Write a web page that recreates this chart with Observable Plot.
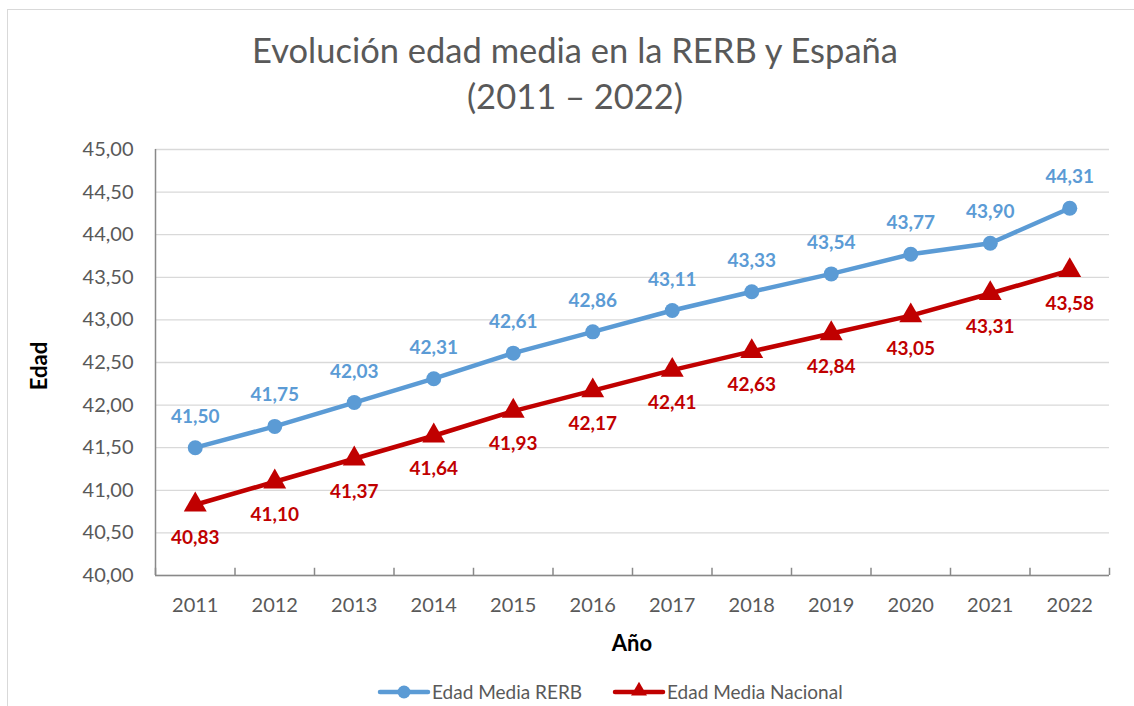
<!DOCTYPE html>
<html><head><meta charset="utf-8">
<script src="https://cdn.jsdelivr.net/npm/d3@7"></script>
<script src="https://cdn.jsdelivr.net/npm/@observablehq/plot@0.6"></script>
<style>
body{margin:0;background:#fff;font-family:Lato,"Open Sans",sans-serif;}
#wrap{position:relative;width:1134px;height:706px;overflow:hidden;background:#fff}
#border{position:absolute;left:7px;top:9px;width:1200px;height:800px;border:1px solid #d9d9d9;box-sizing:border-box}
#title{position:absolute;left:0;width:1150px;top:27px;text-align:center;font-size:34.5px;line-height:46px;color:#595959}
#xt{position:absolute;left:0;width:1264px;top:629px;text-align:center;font-size:22px;font-weight:bold;color:#000}
#yt{position:absolute;left:38px;top:366px;transform:translate(-50%,-50%) rotate(-90deg);font-size:22px;font-weight:bold;color:#000}
#legend{position:absolute;left:0;top:676px;}
#chart{position:absolute;left:0;top:0}
</style></head>
<body>
<div id="wrap">
<div id="border"></div>
<div id="chart"></div>
<div id="title">Evolución edad media en la RERB y España<br>(2011 – 2022)</div>
<div id="xt">Año</div>
<div id="yt">Edad</div>
<svg id="legend" width="1134" height="30"></svg>
</div>
<script>
const years = [2011,2012,2013,2014,2015,2016,2017,2018,2019,2020,2021,2022];
const rerb = [41.50,41.75,42.03,42.31,42.61,42.86,43.11,43.33,43.54,43.77,43.90,44.31];
const nacional = [40.83,41.10,41.37,41.64,41.93,42.17,42.41,42.63,42.84,43.05,43.31,43.58];
const yTicks = [40,40.5,41,41.5,42,42.5,43,43.5,44,44.5,45];
const seriesNames = ["Edad Media RERB","Edad Media Nacional"];
const colors = ["#5B9BD5","#C00000"];

const dA = years.map((y,i)=>({year:y, v:rerb[i]}));
const dB = years.map((y,i)=>({year:y, v:nacional[i]}));
const bounds = years.map(y=>y-0.5).concat([years[years.length-1]+0.5]);
const fmt = d => d.toFixed(2).replace(".", ",");

const plot = Plot.plot({
  width:1134, height:706,
  marginLeft:155, marginRight:25, marginTop:149, marginBottom:131,
  style:{fontFamily:"Lato, 'Open Sans', sans-serif", background:"transparent", overflow:"visible"},
  x:{domain:[years[0]-0.5, years[years.length-1]+0.5]},
  y:{domain:[40,45]},
  marks:[
    Plot.gridY(yTicks,{stroke:"#d9d9d9", strokeOpacity:1, strokeWidth:1.3}),
    Plot.axisY({ticks:yTicks, tickSize:0, tickPadding:22, tickFormat:fmt, fontSize:20, fill:"#595959", label:null}),
    Plot.axisX({ticks:years, tickSize:0, tickPadding:22, tickFormat:d=>String(d), fontSize:20, fill:"#595959", label:null}),
    Plot.ruleX(bounds,{x:d=>d, y1:40, y2:40.085, stroke:"#898989", strokeWidth:1.5}),
    Plot.ruleX([years[0]-0.5],{y1:40, y2:45, stroke:"#898989", strokeWidth:1.5}),
    Plot.ruleY([40],{stroke:"#898989", strokeWidth:1.5}),
    Plot.line(dA,{x:"year", y:"v", stroke:colors[0], strokeWidth:4.5}),
    Plot.dot(dA,{x:"year", y:"v", r:7.5, fill:colors[0], stroke:null}),
    Plot.line(dB,{x:"year", y:"v", stroke:colors[1], strokeWidth:4.5}),
    Plot.dot(dB,{x:"year", y:"v", symbol:"triangle", r:8.5, fill:colors[1], stroke:null}),
    Plot.text(dA,{x:"year", y:"v", text:d=>fmt(d.v), dy:-31, fill:colors[0], fontSize:19, fontWeight:"bold"}),
    Plot.text(dB,{x:"year", y:"v", text:d=>fmt(d.v), dy:33, fill:colors[1], fontSize:19, fontWeight:"bold"})
  ]
});
document.getElementById("chart").appendChild(plot);

// legend
const lg = d3.select("#legend");
const items = [{x:380, sym:"circle"},{x:615, sym:"triangle"}];
items.forEach((it,i)=>{
  const g = lg.append("g").attr("transform",`translate(${it.x},16)`);
  g.append("line").attr("x1",0).attr("x2",48).attr("y1",0).attr("y2",0)
   .attr("stroke",colors[i]).attr("stroke-width",4.5).attr("stroke-linecap","round");
  if(it.sym==="circle") g.append("circle").attr("cx",24).attr("cy",0).attr("r",6.5).attr("fill",colors[i]);
  else g.append("path").attr("d",d3.symbol(d3.symbolTriangle,110)()).attr("transform","translate(24,-1)").attr("fill",colors[i]);
  g.append("text").attr("x",52).attr("y",7).attr("font-size",19).attr("fill","#595959")
   .attr("font-family","Lato, 'Open Sans', sans-serif").text(seriesNames[i]);
});
</script>
</body></html>
